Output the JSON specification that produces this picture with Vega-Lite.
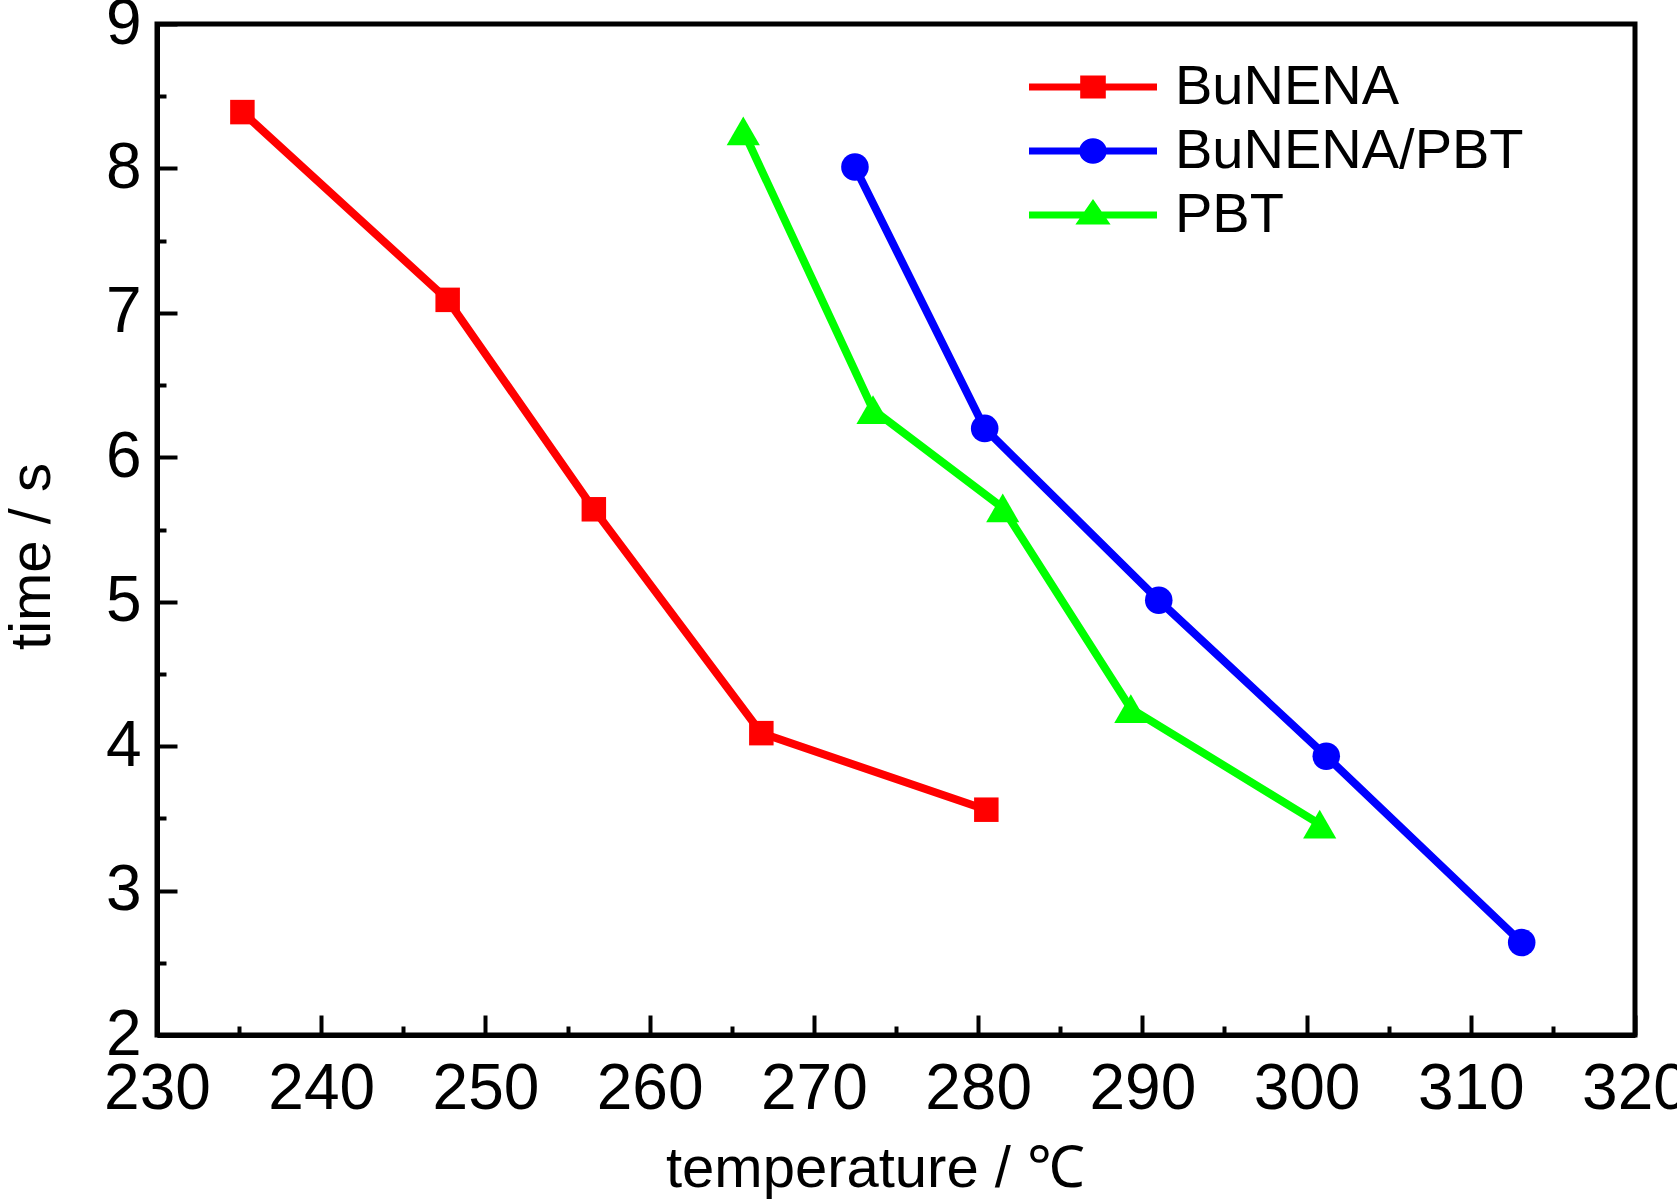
{
  "$schema": "https://vega.github.io/schema/vega-lite/v6.json",
  "width": 1478,
  "height": 1011,
  "autosize": "none",
  "padding": {"left": 157, "top": 24, "right": 42, "bottom": 167},
  "background": "white",
  "data": {
    "values": [
      {"sample": "BuNENA", "temperature": 235.2, "time": 8.39},
      {"sample": "BuNENA", "temperature": 247.7, "time": 7.09},
      {"sample": "BuNENA", "temperature": 256.6, "time": 5.64},
      {"sample": "BuNENA", "temperature": 266.8, "time": 4.09},
      {"sample": "BuNENA", "temperature": 280.5, "time": 3.56},
      {"sample": "BuNENA/PBT", "temperature": 272.5, "time": 8.01},
      {"sample": "BuNENA/PBT", "temperature": 280.4, "time": 6.2},
      {"sample": "BuNENA/PBT", "temperature": 291.0, "time": 5.01},
      {"sample": "BuNENA/PBT", "temperature": 301.2, "time": 3.93},
      {"sample": "BuNENA/PBT", "temperature": 313.1, "time": 2.64},
      {"sample": "PBT", "temperature": 265.7, "time": 8.26},
      {"sample": "PBT", "temperature": 273.6, "time": 6.33},
      {"sample": "PBT", "temperature": 281.5, "time": 5.65},
      {"sample": "PBT", "temperature": 289.3, "time": 4.26},
      {"sample": "PBT", "temperature": 300.8, "time": 3.46}
    ]
  },
  "encoding": {
    "color": {
      "field": "sample",
      "type": "nominal",
      "scale": {"domain": ["BuNENA", "BuNENA/PBT", "PBT"], "range": ["#ff0000", "#0000ff", "#00ff00"]}
    }
  },
  "layer": [
    {
      "mark": {"type": "line", "strokeWidth": 8},
      "encoding": {
        "x": {
          "field": "temperature",
          "type": "quantitative",
          "scale": {"domain": [230, 320], "nice": false, "zero": false},
          "axis": {
            "orient": "bottom",
            "title": "temperature / ℃",
            "format": "d",
            "values": [230, 240, 250, 260, 270, 280, 290, 300, 310, 320],
            "tickSize": -20,
            "labelPadding": 42,
            "titlePadding": 19,
            "titleX": 718
          }
        },
        "y": {
          "field": "time",
          "type": "quantitative",
          "scale": {"domain": [2, 9], "nice": false, "zero": false},
          "axis": {
            "orient": "left",
            "title": "time / s",
            "format": "d",
            "values": [2, 3, 4, 5, 6, 7, 8, 9],
            "tickSize": -20,
            "labelPadding": 36,
            "titlePadding": 44,
            "titleY": 532
          }
        },
        "color": {
          "field": "sample",
          "type": "nominal",
          "legend": {
            "title": null,
            "orient": "none",
            "legendX": 904,
            "legendY": 31,
            "padding": 0,
            "rowPadding": 4,
            "symbolSize": 4096,
            "symbolStrokeWidth": 0,
            "labelOffset": 50,
            "labelFont": "Liberation Sans",
            "labelFontSize": 56,
            "labelColor": "black",
            "labelLimit": 600,
            "encode": {
              "symbols": {
                "update": {
                  "shape": [
                    {"test": "datum.value === 'BuNENA'", "value": "M-2,-0.11H2V0.11H-2Z M-0.4,-0.36H0.4V0.36H-0.4Z"},
                    {"test": "datum.value === 'BuNENA/PBT'", "value": "M-2,-0.11H2V0.11H-2Z M-0.43,0A0.43,0.4,0,1,1,0.43,0A0.43,0.4,0,1,1,-0.43,0Z"},
                    {"value": "M-2,-0.11H2V0.11H-2Z M0,-0.5L0.55,0.3L-0.55,0.3Z"}
                  ],
                  "fill": [
                    {"test": "datum.value === 'BuNENA'", "value": "#ff0000"},
                    {"test": "datum.value === 'BuNENA/PBT'", "value": "#0000ff"},
                    {"value": "#00ff00"}
                  ],
                  "stroke": {"value": "transparent"},
                  "size": {"value": 4096},
                  "strokeWidth": {"value": 0},
                  "opacity": {"value": 1}
                }
              }
            }
          }
        }
      }
    },
    {
      "transform": [{"filter": "datum.sample === 'BuNENA'"}],
      "mark": {"type": "point", "shape": "square", "size": 600, "filled": true, "opacity": 1},
      "encoding": {
        "x": {
          "field": "temperature",
          "type": "quantitative",
          "axis": {
            "orient": "bottom",
            "title": null,
            "values": [235, 245, 255, 265, 275, 285, 295, 305, 315],
            "tickSize": -9,
            "labels": false,
            "domain": false
          }
        },
        "y": {
          "field": "time",
          "type": "quantitative",
          "axis": {
            "orient": "left",
            "title": null,
            "values": [2.5, 3.5, 4.5, 5.5, 6.5, 7.5, 8.5],
            "tickSize": -9,
            "labels": false,
            "domain": false
          }
        }
      }
    },
    {
      "transform": [{"filter": "datum.sample === 'BuNENA/PBT'"}],
      "mark": {"type": "point", "shape": "circle", "size": 760, "filled": true, "opacity": 1},
      "encoding": {
        "x": {"field": "temperature", "type": "quantitative", "axis": null},
        "y": {"field": "time", "type": "quantitative", "axis": null}
      }
    },
    {
      "transform": [{"filter": "datum.sample === 'PBT'"}],
      "mark": {"type": "point", "shape": "triangle-up", "size": 1100, "filled": true, "opacity": 1},
      "encoding": {
        "x": {"field": "temperature", "type": "quantitative", "axis": null},
        "y": {"field": "time", "type": "quantitative", "axis": null}
      }
    }
  ],
  "resolve": {"axis": {"x": "independent", "y": "independent"}},
  "config": {
    "font": "Liberation Sans, Arial, sans-serif",
    "view": {"stroke": "black", "strokeWidth": 5},
    "axis": {
      "grid": false,
      "domainColor": "black",
      "domainWidth": 5,
      "tickColor": "black",
      "tickWidth": 4,
      "labelFont": "Liberation Sans, Arial, sans-serif",
      "labelFontSize": 64,
      "labelColor": "black",
      "labelFlush": false,
      "labelOverlap": false,
      "titleFont": "Liberation Sans, Arial, sans-serif",
      "titleFontSize": 58,
      "titleFontWeight": "normal",
      "titleColor": "black"
    }
  }
}
